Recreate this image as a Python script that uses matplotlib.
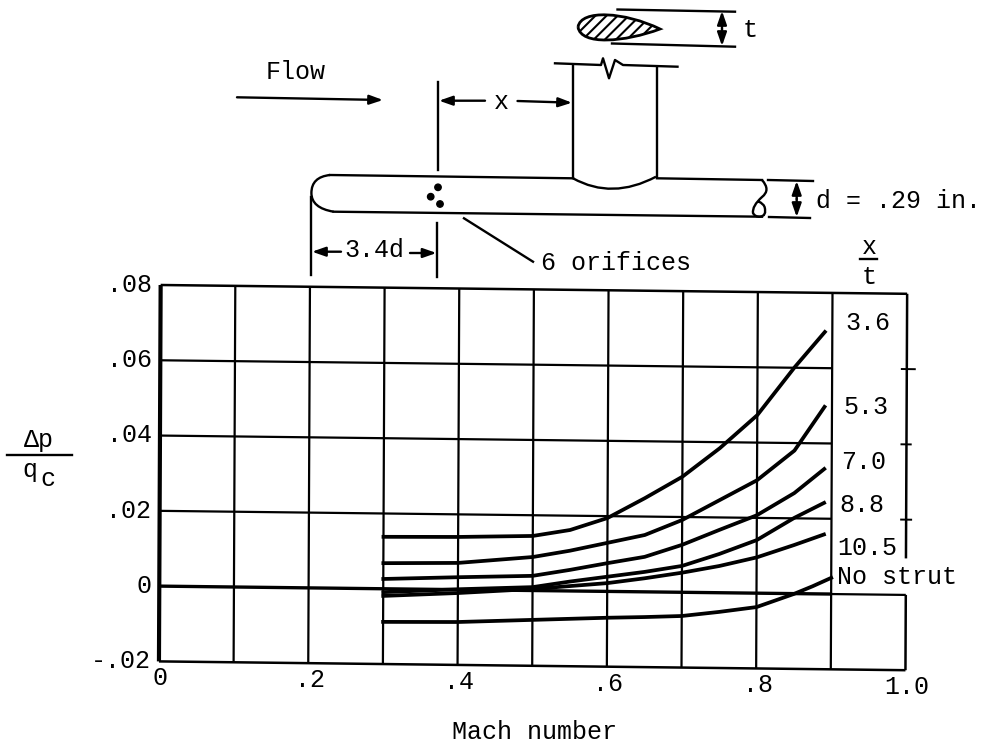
import matplotlib
matplotlib.use("Agg")
import matplotlib.pyplot as plt
from matplotlib.path import Path
from matplotlib.patches import PathPatch, Circle
from matplotlib.transforms import Affine2D

plt.rcParams['font.family'] = ['Liberation Mono', 'DejaVu Sans Mono']
plt.rcParams['hatch.linewidth'] = 1.5

# Mach number stations
mach = [0.3, 0.4, 0.5, 0.55, 0.6, 0.65, 0.7, 0.75, 0.8, 0.85, 0.89]
curve_36 = [0.0138, 0.0140, 0.0145, 0.0162, 0.0195, 0.0249, 0.0307, 0.0384, 0.0473, 0.0602, 0.0696]
curve_53 = [0.0068, 0.0071, 0.0089, 0.0107, 0.0129, 0.0151, 0.0192, 0.0246, 0.0300, 0.0380, 0.0497]
curve_70 = [0.0026, 0.0033, 0.0039, 0.0056, 0.0075, 0.0093, 0.0126, 0.0167, 0.0207, 0.0267, 0.0332]
curve_88 = [-0.0009, 0.0001, 0.0009, 0.0025, 0.0039, 0.0053, 0.0070, 0.0103, 0.0141, 0.0201, 0.0242]
curve_105 = [-0.0019, -0.0009, 0.0004, 0.0013, 0.0022, 0.0036, 0.0052, 0.0071, 0.0095, 0.0129, 0.0158]
mach_no_strut = [0.3, 0.4, 0.5, 0.55, 0.6, 0.65, 0.7, 0.75, 0.8, 0.85, 0.875, 0.9]
curve_no_strut = [-0.0088, -0.0086, -0.0078, -0.0074, -0.0070, -0.0067, -0.0063, -0.0051, -0.0037, -0.0001, 0.0020, 0.0043]

x_ticks = [0, 0.2, 0.4, 0.6, 0.8, 1.0]
x_tick_labels = ['0', '.2', '.4', '.6', '.8', '1.0']
y_ticks = [0.08, 0.06, 0.04, 0.02, 0, -0.02]
y_tick_labels = ['.08', '.06', '.04', '.02', '0', '-.02']
grid_x = [0.1, 0.2, 0.3, 0.4, 0.5, 0.6, 0.7, 0.8, 0.9]
grid_y = [0.06, 0.04, 0.02]

BLACK = '#000000'
FS = 18

fig = plt.figure(figsize=(9.85, 7.5), dpi=100)
ax = fig.add_axes([159.8 / 985, (750 - 665.8) / 750, 746.5 / 985, 376.4 / 750])
ax.set_xlim(0, 1)
ax.set_ylim(-0.02, 0.08)
ax.set_axis_off()

# the scan is slightly skewed, so everything in the plot goes through this
a, b, cx, cy = 0.0045, -0.0118, 533, 272.4
skew = Affine2D.from_values(1, b, a, 1, -a * cy, -b * cx)
tr = ax.transData + skew


def line(xs, ys, lw=1.6):
    ax.plot(xs, ys, color=BLACK, lw=lw, transform=tr, clip_on=False, solid_capstyle='butt')


# frame and grid
for gx in grid_x:
    line([gx, gx], [-0.02, 0.08])
for gy in grid_y:
    line([0, 0.9], [gy, gy])
line([0, 0], [-0.02, 0.08], lw=3)
line([0, 1], [0.08, 0.08], lw=1.8)
line([0, 1], [-0.02, -0.02], lw=1.8)
line([0, 0.9], [0, 0], lw=2.4)
line([0.9, 1], [0, 0], lw=1.6)
line([1, 1], [0.0097, 0.08], lw=1.8)
line([1, 1], [-0.02, 0], lw=1.8)
for gy, half in zip(grid_y, [0.012, 0.007, 0.008]):
    line([1 - 0.008, 1 + half], [gy, gy], lw=1.4)

# curves
for ys in [curve_36, curve_53, curve_70, curve_88, curve_105]:
    ax.plot(mach, ys, color=BLACK, lw=2.7, transform=tr, clip_on=False, solid_joinstyle='round')
ax.plot(mach_no_strut, curve_no_strut, color=BLACK, lw=2.7, transform=tr, clip_on=False, solid_joinstyle='round')

# tick labels
for v, s in zip(y_ticks, y_tick_labels):
    ax.text(-0.011, v, s, transform=tr, ha='right', va='center', fontsize=FS, color=BLACK)
for v, s in zip(x_ticks, x_tick_labels):
    ax.text(v + 0.002, -0.0245, s, transform=tr, ha='center', va='center', fontsize=FS, color=BLACK)

# overlay in pixel coordinates for the sketch and labels
ov = fig.add_axes([0, 0, 1, 1])
ov.set_xlim(0, 985)
ov.set_ylim(750, 0)
ov.set_axis_off()
ov.patch.set_alpha(0)


def seg(pts, lw=1.7):
    ov.plot([p[0] for p in pts], [p[1] for p in pts], color=BLACK, lw=lw, solid_joinstyle='round')


def arrow(p0, p1):
    ov.annotate('', xy=p1, xytext=p0,
                arrowprops=dict(arrowstyle='-|>,head_length=0.8,head_width=0.28', color=BLACK, lw=1.7,
                                shrinkA=0, shrinkB=0))


def txt(x, y, s, ha='center', fs=FS):
    ov.text(x, y, s, ha=ha, va='center', fontsize=fs, color=BLACK)


# airfoil section
foil = Path([(578, 27), (581, 9), (625, 12), (660, 29), (625, 42), (581, 46), (578, 27)],
            [Path.MOVETO, Path.CURVE4, Path.CURVE4, Path.CURVE4, Path.CURVE4, Path.CURVE4, Path.CURVE4])
ov.add_patch(PathPatch(foil, facecolor='white', edgecolor=BLACK, hatch='///', lw=2))
seg([(617.5, 9.5), (735, 11.7)])
seg([(612, 43.5), (735, 46.7)])
arrow((722, 29), (722, 11))
arrow((722, 29), (722, 46))
txt(750, 30, 't')

# strut
seg([(555, 63.3), (601, 65), (603, 58.3), (609, 78.3), (615, 60), (623, 65), (677.5, 66.7)])
seg([(573, 65), (573, 178.3)])
seg([(657, 66.7), (657, 176.7)])
ov.add_patch(PathPatch(Path([(573, 178.3), (612, 200), (656, 176.7)], [Path.MOVETO, Path.CURVE3, Path.CURVE3]),
                       facecolor='none', edgecolor=BLACK, lw=1.7))

# body
seg([(330, 175), (573, 178.3)])
seg([(657, 178.3), (762, 180)])
seg([(333.6, 211.7), (762, 216.7)])
ov.add_patch(PathPatch(Path([(330, 175), (311.4, 177), (311.4, 193), (311.4, 208), (333.6, 211.7)],
                            [Path.MOVETO, Path.CURVE3, Path.CURVE3, Path.CURVE3, Path.CURVE3]),
                       facecolor='none', edgecolor=BLACK, lw=1.7))
ov.add_patch(PathPatch(Path([(762, 180), (771, 190), (762, 197), (752, 206), (753, 213), (755, 217), (760, 216.7),
                             (767, 216), (764.6, 207), (763, 203), (758.6, 201.7)],
                            [Path.MOVETO] + [Path.CURVE3] * 10),
                       facecolor='none', edgecolor=BLACK, lw=1.7))
for c in [(438, 187.3), (430.7, 196.7), (440, 204)]:
    ov.add_patch(Circle(c, 3.2, color=BLACK))

# dimension lines
seg([(438, 81.7), (438, 170)])
seg([(437, 223.3), (437, 276.7)])
seg([(311, 196.7), (311, 275)])
seg([(464, 218.3), (533, 261.7)])
seg([(768, 180), (813, 181)])
seg([(769, 217), (810, 218)])
arrow((237, 97.3), (383, 100))
arrow((485, 100.7), (439, 100.7))
arrow((517.5, 101), (572, 102.7))
arrow((341, 251.7), (312, 251.7))
arrow((410, 253), (436.5, 253))
arrow((796.7, 199), (796.7, 181))
arrow((796.7, 199), (796.7, 217))

txt(266, 72, 'Flow', ha='left')
txt(501.4, 101.7, 'x')
txt(374.5, 250, '3.4d')
txt(541, 263, '6 orifices', ha='left')
txt(816, 200.7, 'd = .29 in.', ha='left')

# x/t column
txt(869, 247, 'x')
seg([(860, 259), (877.3, 259)])
txt(869, 277, 't')
txt(868, 323, '3.6')
txt(866, 407, '5.3')
txt(864, 462, '7.0')
txt(862, 505, '8.8')
txt(867, 548, '10.5')
txt(837, 577, 'No strut', ha='left')

# ordinate label
txt(39, 440, '\u0394p')
seg([(7, 455), (72, 455)])
txt(30, 470, 'q')
txt(48, 479, 'c')
txt(535, 731.7, 'Mach number')

fig.savefig('out.png', dpi=100, facecolor='white')
